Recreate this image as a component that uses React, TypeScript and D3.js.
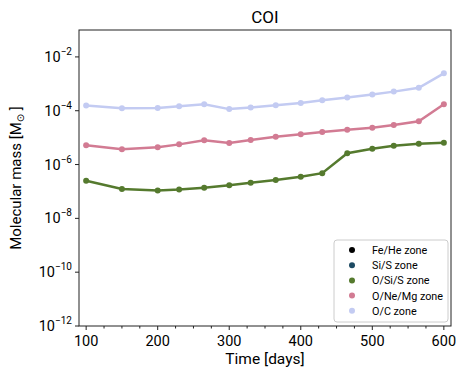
import React from "react";
import * as d3 from "d3";

const days = [100, 150, 200, 230, 265, 300, 330, 365, 400, 430, 465, 500, 530, 565, 600];
const ocLog = [-3.81, -3.91, -3.9, -3.83, -3.76, -3.94, -3.88, -3.8, -3.71, -3.61, -3.51, -3.4, -3.29, -3.15, -2.61];
const oneMgLog = [-5.28, -5.43, -5.36, -5.25, -5.1, -5.2, -5.09, -4.97, -4.87, -4.79, -4.71, -4.63, -4.53, -4.39, -3.76];
const osisLog = [-6.6, -6.91, -6.96, -6.93, -6.86, -6.77, -6.68, -6.57, -6.45, -6.32, -5.58, -5.41, -5.3, -5.23, -5.19];
const legendNames = ["Fe/He zone", "Si/S zone", "O/Si/S zone", "O/Ne/Mg zone", "O/C zone"];
const legendColors = ["#000000", "#1d4a63", "#557a2e", "#d27b93", "#c3cbf2"];
const xTicks = [100, 200, 300, 400, 500, 600];
const yTickExp = [-12, -10, -8, -6, -4, -2];

const W = 459, H = 371;
const m = { l: 79, r: 451, t: 30, b: 326 };

export default function App() {
  const x = d3.scaleLinear().domain([90, 610]).range([m.l, m.r]);
  const y = d3.scaleLog().domain([1e-12, 1e-1]).range([m.b, m.t]);
  const series = [
    { vals: osisLog, color: legendColors[2] },
    { vals: oneMgLog, color: legendColors[3] },
    { vals: ocLog, color: legendColors[4] },
  ];
  const line = d3
    .line<[number, number]>()
    .x((d) => x(d[0]))
    .y((d) => y(Math.pow(10, d[1])));
  const minor = d3.range(100, 601, 25).filter((v) => v % 100 !== 0);
  const font = "Roboto, 'DejaVu Sans', sans-serif";
  return (
    <svg width={W} height={H} style={{ position: "absolute", left: 0, top: 0 }} fontFamily={font}>
      <rect x={0} y={0} width={W} height={H} fill="#fff" />
      <text x={(m.l + m.r) / 2} y={23} textAnchor="middle" fontSize={17} fill="#000">
        COI
      </text>
      {series.map((s, i) => {
        const pts: [number, number][] = days.map((d, j) => [d, s.vals[j]]);
        return (
          <g key={i}>
            <path d={line(pts) || ""} fill="none" stroke={s.color} strokeWidth={2.5} />
            {pts.map((p, j) => (
              <circle key={j} cx={x(p[0])} cy={y(Math.pow(10, p[1]))} r={3} fill={s.color} />
            ))}
          </g>
        );
      })}
      <rect x={m.l} y={m.t} width={m.r - m.l} height={m.b - m.t} fill="none" stroke="#222" strokeWidth={1} />
      {xTicks.map((t) => (
        <g key={t}>
          <line x1={x(t)} x2={x(t)} y1={m.b} y2={m.b + 4} stroke="#222" />
          <text x={x(t)} y={m.b + 20} textAnchor="middle" fontSize={14.5} fill="#000">
            {t}
          </text>
        </g>
      ))}
      {minor.map((t) => (
        <line key={t} x1={x(t)} x2={x(t)} y1={m.b} y2={m.b + 2.5} stroke="#222" />
      ))}
      {yTickExp.map((e) => (
        <g key={e}>
          <line x1={m.l - 4} x2={m.l} y1={y(Math.pow(10, e))} y2={y(Math.pow(10, e))} stroke="#222" />
          <text x={m.l - 7} y={y(Math.pow(10, e)) + 5} textAnchor="end" fontSize={14.5} fill="#000">
            10
            <tspan dy={-7} fontSize={10}>
              {"\u2212" + Math.abs(e)}
            </tspan>
          </text>
        </g>
      ))}
      <text x={(m.l + m.r) / 2} y={364} textAnchor="middle" fontSize={15.5} fill="#000">
        Time [days]
      </text>
      <text transform={`translate(21,${(m.t + m.b) / 2}) rotate(-90)`} textAnchor="middle" fontSize={15} fill="#000">
        Molecular mass [M
        <tspan fontSize={10} dy={3}>{"\u2299"}</tspan>
        <tspan dy={-3}> ]</tspan>
      </text>
      <rect x={334} y={240} width={114} height={82} rx={3} fill="#fff" stroke="#ccc" strokeWidth={1} />
      {legendNames.map((n, i) => (
        <g key={n}>
          <circle cx={352} cy={250 + i * 15.2} r={3} fill={legendColors[i]} />
          <text x={372} y={254 + i * 15.2} fontSize={10.8} fill="#000">
            {n}
          </text>
        </g>
      ))}
    </svg>
  );
}
